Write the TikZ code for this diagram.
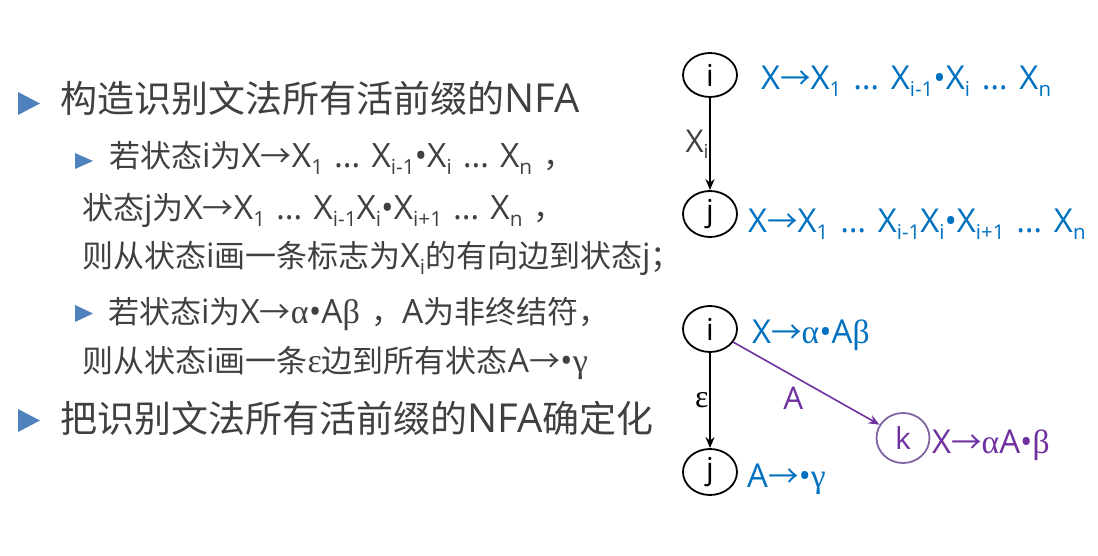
\documentclass[tikz,border=0pt]{standalone}
\usepackage{fontspec}
\setmainfont{Open Sans}[Scale=1.08]
\newfontfamily\cjk{Noto Sans CJK SC}
\newfontfamily\symf{Liberation Serif}[Scale=1.1]
\usetikzlibrary{arrows.meta,shapes.geometric}
\definecolor{txt}{HTML}{404040}
\definecolor{bul}{HTML}{4F81BD}
\definecolor{blu}{HTML}{0070C0}
\definecolor{pur}{HTML}{7030A0}
\definecolor{purl}{HTML}{8064A2}
\newcommand\sbs[1]{\raisebox{-0.2em}{\scalebox{0.62}{#1}}}
\newcommand\rarr{{\cjk →}}
\newcommand\gal{{\symf α}}
\newcommand\gbe{{\symf β}}
\newcommand\gga{{\symf γ}}
\newcommand\gep{{\symf ε}}
\newcommand\subfnt{\fontsize{31}{36}\selectfont\spaceskip 0.33em\relax}
\newcommand\diafnt{\fontsize{30.5}{34}\selectfont\spaceskip 0.36em\relax}
\begin{document}
\begin{tikzpicture}[x=1pt,y=-1pt,
  mainline/.style={anchor=base west,inner sep=0pt,text=txt,font=\fontsize{37}{40}\selectfont},
  subline/.style={anchor=base west,inner sep=0pt,text=txt,font=\subfnt},
  dtext/.style={anchor=base west,inner sep=0pt,font=\diafnt},
  stnode/.style={ellipse,draw,line width=1.8pt,minimum width=54pt,minimum height=46pt,inner sep=0pt,font=\fontsize{28}{32}\selectfont,text=black},
  edge/.style={line width=1.6pt,-{Stealth[length=11pt,width=9pt]}},
  elabel/.style={font=\fontsize{29}{32}\selectfont,text=txt}]
\useasboundingbox (0,0) rectangle (1098,556);
% bullets
\fill[bul] (18,92) -- (40,103.5) -- (18,115) -- cycle;
\fill[bul] (75,153) -- (93,161) -- (75,169) -- cycle;
\fill[bul] (75,305) -- (93,313.5) -- (75,322) -- cycle;
\fill[bul] (18,409) -- (40,420.5) -- (18,432) -- cycle;
% left text
\node[mainline] (lA) at (60,113) {{\cjk 构造识别文法所有活前缀的}NFA};
\node[subline] (lB) at (109,168) {{\cjk 若状态}i{\cjk 为}X\rarr X\sbs{1} … X\sbs{i-1}•X\sbs{i} … X\sbs{n} {\cjk ，}};
\node[subline] (lC) at (82,220) {{\cjk 状态}j{\cjk 为}X\rarr X\sbs{1} … X\sbs{i-1}X\sbs{i}•X\sbs{i+1} … X\sbs{n} {\cjk ，}};
\node[subline] (lD) at (82,268) {{\cjk 则从状态}i{\cjk 画一条标志为}X\sbs{i}{\cjk 的有向边到状态}j{\cjk ；}};
\node[subline] (lE) at (108,323) {{\cjk 若状态}i{\cjk 为}X\rarr\gal•A\gbe{} {\cjk ，}A{\cjk 为非终结符，}};
\node[subline] (lF) at (82,372) {{\cjk 则从状态}i{\cjk 画一条}\gep{\cjk 边到所有状态}A\rarr•\gga};
\node[mainline] (lG) at (60,432) {{\cjk 把识别文法所有活前缀的}NFA{\cjk 确定化}};
% top diagram
\node[stnode,minimum height=44pt] (i1) at (710,75) {i};
\node[stnode] (j1) at (710,214) {j};
\draw[edge] (i1) -- (j1) node[midway,left,elabel,xshift=3pt] {X\sbs{i}};
\node[dtext,text=blu] (t1) at (761,90) {X\rarr X\sbs{1} … X\sbs{i-1}•X\sbs{i} … X\sbs{n}};
\node[dtext,text=blu] (t2) at (748,233) {X\rarr X\sbs{1} … X\sbs{i-1}X\sbs{i}•X\sbs{i+1} … X\sbs{n}};
% bottom diagram
\node[stnode] (i2) at (710,329) {i};
\node[stnode] (j2) at (710,472) {j};
\node[stnode,draw=purl,minimum height=50pt,minimum width=53pt,text=pur] (k) at (903,438) {k};
\draw[edge] (i2) -- (j2) node[midway,left,elabel,text=black,xshift=3pt] {\gep};
\draw[edge,pur] (i2) -- (k) node[midway,elabel,text=pur,xshift=-13pt,yshift=-15pt] {A};
\node[dtext,text=blu] (t3) at (752,343) {X\rarr\gal•A\gbe};
\node[dtext,text=blu] (t4) at (747,487) {A\rarr•\gga};
\node[dtext,text=pur] (t5) at (932,453) {X\rarr\gal A•\gbe};
\end{tikzpicture}
\end{document}
